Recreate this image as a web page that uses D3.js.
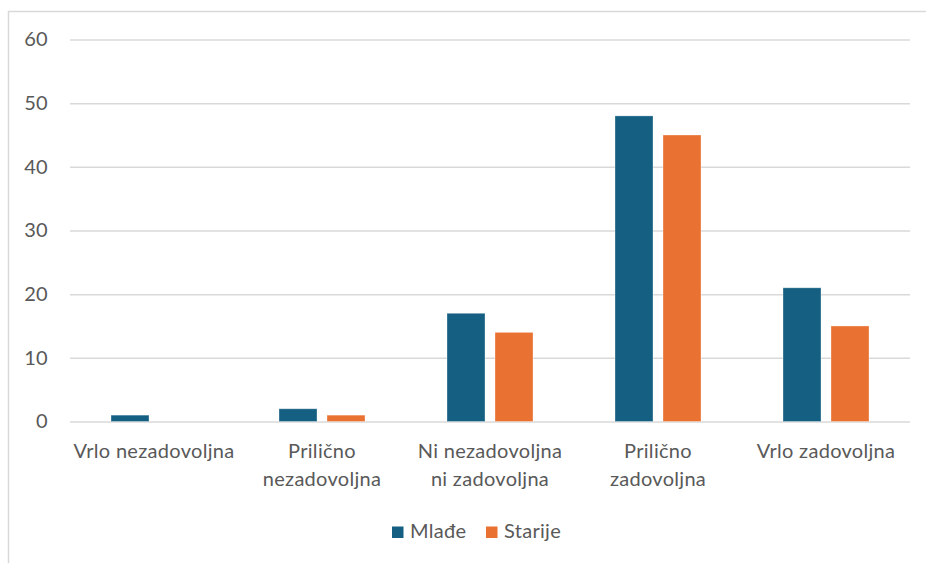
<!DOCTYPE html>
<html>
<head>
<meta charset="utf-8">
<script src="https://cdn.jsdelivr.net/npm/d3@7/dist/d3.min.js"></script>
<style>
  html, body { margin: 0; padding: 0; background: #fff; }
  svg { display: block; }
  text { font-family: Lato, "Open Sans", sans-serif; fill: #595959; letter-spacing: 0.3px; }
</style>
</head>
<body>
<svg id="chart" width="926" height="563"></svg>
<script>
// Satisfaction categories (two-line labels split with "\n")
const categories = [
  "Vrlo nezadovoljna",
  "Prilično\nnezadovoljna",
  "Ni nezadovoljna\nni zadovoljna",
  "Prilično\nzadovoljna",
  "Vrlo zadovoljna"
];
const seriesNames = ["Mlađe", "Starije"];
const mladje = [1, 2, 17, 48, 21];
const starije = [0, 1, 14, 45, 15];
const yTicks = [0, 10, 20, 30, 40, 50, 60];
const colors = ["#156082", "#E97132"];

const FONT = 20;
const svg = d3.select("#chart");

// Outer chart frame
svg.append("rect")
  .attr("x", 8.5).attr("y", 11.5)
  .attr("width", 930).attr("height", 560)
  .attr("fill", "none").attr("stroke", "#d9d9d9").attr("stroke-width", 1.5);

const plot = { left: 70, right: 910, top: 39.5, bottom: 421.5 };

const x = d3.scaleBand().domain(categories)
  .range([plot.left, plot.right]).paddingInner(0).paddingOuter(0);
const y = d3.scaleLinear().domain([0, 60]).range([plot.bottom, plot.top]);

// Gridlines and value axis labels
const yAxis = d3.axisLeft(y).tickValues(yTicks).tickSize(-(plot.right - plot.left)).tickPadding(22);
const gy = svg.append("g").attr("transform", `translate(${plot.left},0)`).call(yAxis);
gy.select(".domain").remove();
gy.selectAll(".tick line").attr("stroke", "#d9d9d9").attr("stroke-width", 1.5);
gy.selectAll(".tick text")
  .attr("font-size", FONT).attr("fill", "#595959")
  .style("font-family", "Lato, 'Open Sans', sans-serif");

// Grouped bars
const barW = 38, gap = 10;
const series = [mladje, starije];
series.forEach((vals, si) => {
  svg.append("g").selectAll("rect")
    .data(vals)
    .join("rect")
    .attr("x", (d, i) => x(categories[i]) + x.bandwidth() / 2 - (barW + gap / 2) + si * (barW + gap))
    .attr("y", d => y(d))
    .attr("width", barW)
    .attr("height", d => y(0) - y(d))
    .attr("fill", colors[si])
    .attr("stroke", "#fff")
    .attr("stroke-opacity", 0.4)
    .attr("stroke-width", 0.8)
    .style("display", d => d > 0 ? null : "none");
});

// Category labels
const xl = svg.append("g");
categories.forEach(c => {
  const lines = c.split("\n");
  const cx = x(c) + x.bandwidth() / 2;
  const t = xl.append("text")
    .attr("x", cx)
    .attr("y", 458)
    .attr("text-anchor", "middle")
    .attr("font-size", FONT);
  lines.forEach((ln, k) => {
    t.append("tspan").attr("x", cx).attr("dy", k === 0 ? 0 : 28).text(ln);
  });
});

// Legend
const legend = svg.append("g");
const legendItems = [
  { name: seriesNames[0], color: colors[0], x: 392 },
  { name: seriesNames[1], color: colors[1], x: 486 }
];
legendItems.forEach(it => {
  legend.append("rect").attr("x", it.x).attr("y", 526.5).attr("width", 11.5).attr("height", 11.5).attr("fill", it.color);
  legend.append("text").attr("x", it.x + 18).attr("y", 538).attr("font-size", FONT).text(it.name);
});
</script>
</body>
</html>
